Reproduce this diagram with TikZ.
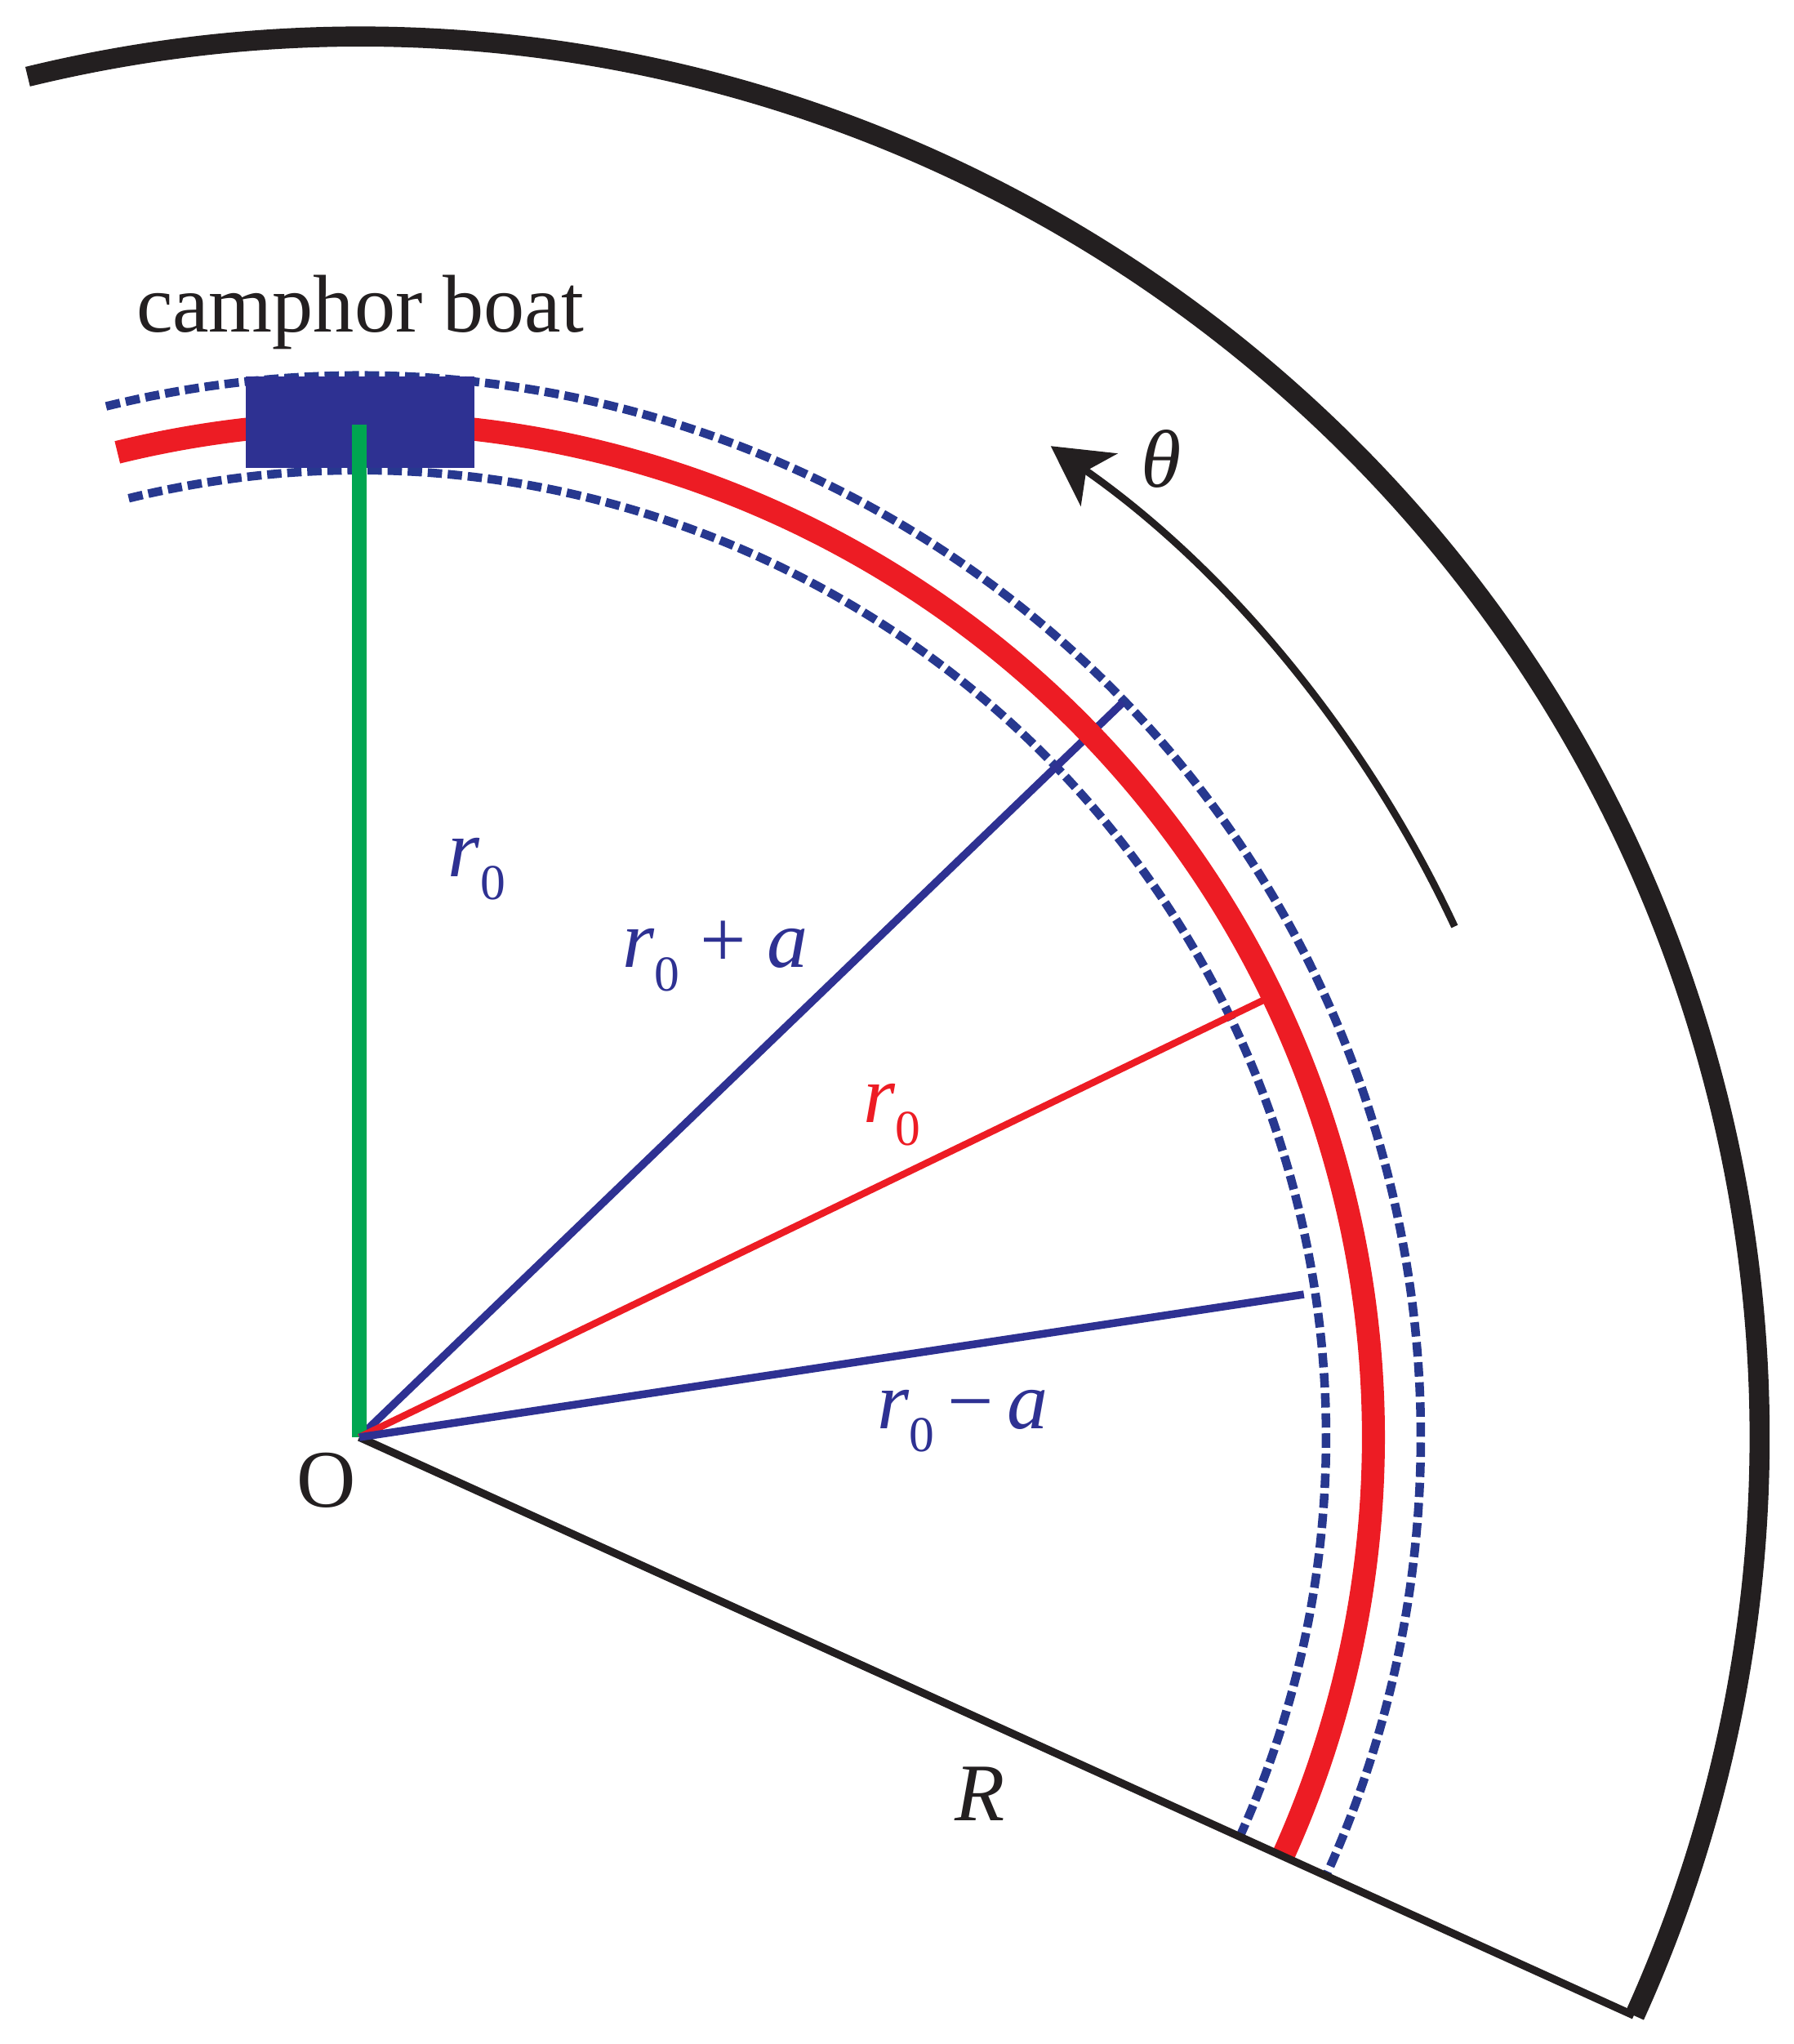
\documentclass[tikz,border=0pt]{standalone}
\usepackage{fontspec}
\setmainfont{Liberation Serif}
\usetikzlibrary{arrows.meta}
\definecolor{boatblue}{HTML}{2E3192}
\definecolor{dashblue}{HTML}{27388F}
\definecolor{ringred}{HTML}{ED1C24}
\definecolor{rodgreen}{HTML}{00A651}
\definecolor{wallblack}{HTML}{231F20}
\newcommand{\rnull}{\textit{r}\raisebox{-.62ex}{\fontsize{17.5}{18}\selectfont 0}}
\tikzset{
  label28/.style={inner sep=0pt,font=\fontsize{28.5}{30}\selectfont},
  dashring/.style={draw=dashblue,line width=3pt,dash pattern=on 5pt off 2pt},
  spoke/.style={line width=2.7pt}
}
\begin{document}
\begin{tikzpicture}
\useasboundingbox (0,0) rectangle (21.96,-25.03);
\coordinate (O) at (4.40,-17.60);
% ends of the radial lines
\coordinate (plusend) at ([shift={(O)}]43.9:12.98);
\coordinate (nullend) at ([shift={(O)}]25.8:12.35);
\coordinate (minusend) at ([shift={(O)}]8.6:11.70);
\coordinate (wallend) at ([shift={(O)}]-24.4:17.14);
% dashed rings
\draw[dashring] ([shift={(O)}]103.8:13.00) arc[start angle=103.8,end angle=-24.4,radius=13.00];
\draw[dashring] ([shift={(O)}]103.8:11.84) arc[start angle=103.8,end angle=-24.4,radius=11.84];
\draw[spoke,boatblue] (O) -- (plusend);
\draw[ringred,line width=8pt] ([shift={(O)}]103.8:12.42) arc[start angle=103.8,end angle=-24.4,radius=12.42];
\draw[wallblack,spoke] (O) -- (wallend);
\draw[wallblack,line width=7pt] ([shift={(O)}]103.7:17.15) arc[start angle=103.7,end angle=-24.4,radius=17.15];
% boat
\node[fill=boatblue,inner sep=0pt,minimum width=2.80cm,minimum height=1.12cm] (boat) at (4.41,-5.17) {};
\coordinate (rodtop) at (4.40,-5.20);
\draw[rodgreen,line width=5pt] (O) -- (rodtop);
\draw[ringred,line width=2.4pt] (O) -- (nullend);
\draw[spoke,boatblue] (O) -- (minusend);
% direction of theta
\draw[wallblack,line width=2.5pt,-{Stealth[length=.72cm,width=.78cm,inset=.19cm]}] ([shift={(O)}]25:14.8) arc[start angle=25,end angle=55.1,radius=14.8];
\node[label28,text=wallblack] (thetalabel) at (14.22,-5.62) {\textit{θ}};
\node[label28,text=wallblack] (boatlabel) at (4.41,-3.82) {camphor boat};
\node[label28,text=boatblue] (rodlabel) at (5.84,-10.64) {\rnull};
\node[label28,text=boatblue] (pluslabel) at (8.76,-11.71) {\rnull\ + \textit{a}};
\node[label28,text=ringred] (nulllabel) at (10.92,-13.65) {\rnull};
\node[label28,text=boatblue] (minuslabel) at (11.79,-17.40) {\rnull\,−\,\textit{a}};
\node[label28,text=wallblack] (Olabel) at (4.00,-18.13) {O};
\node[label28,text=wallblack] (Rlabel) at (12.00,-21.97) {\textit{R}};
\end{tikzpicture}
\end{document}
